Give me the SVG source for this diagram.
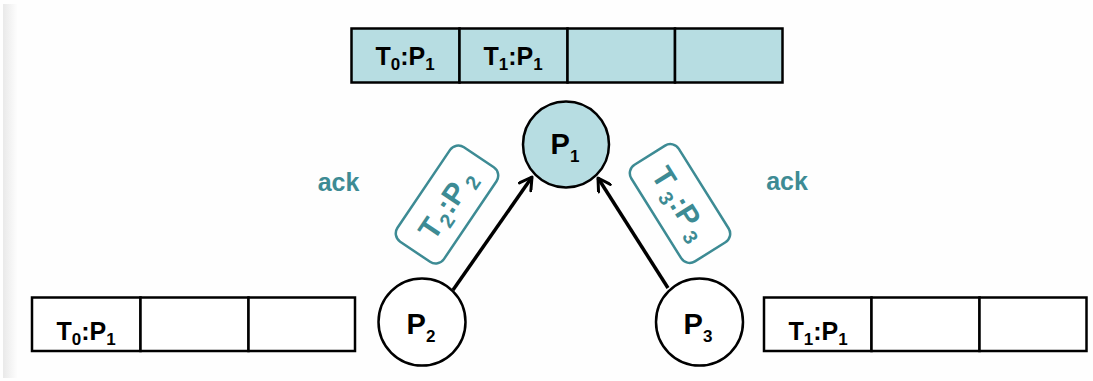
<svg xmlns="http://www.w3.org/2000/svg" width="1093" height="381" viewBox="0 0 1093 381">
<defs>
<linearGradient id="edge" x1="0" y1="0" x2="1" y2="0">
<stop offset="0" stop-color="#e9e9e9"/>
<stop offset="1" stop-color="#fdfdfd"/>
</linearGradient>
<marker id="arr" viewBox="0 0 16 16" refX="14" refY="8" markerWidth="16" markerHeight="16" markerUnits="userSpaceOnUse" orient="auto">
<path d="M2,1 L14,8 L2,15" fill="none" stroke="#000" stroke-width="3" stroke-linecap="round" stroke-linejoin="round"/>
</marker>
</defs>
<style>
.cell{fill:#fff;stroke:#000;stroke-width:2.5}
.cellb{fill:#b7dde2;stroke:#000;stroke-width:2.5}
.node{stroke:#000;stroke-width:2.5}
.t{font-family:"Liberation Sans",Arial,sans-serif;font-weight:bold;fill:#000;text-anchor:middle}
.c{font-size:25px}
.n{font-size:29px}
.s{font-size:17px}
.rs{font-size:20px}
.teal{fill:#3d8b94}
.tag{fill:#fff;stroke:#3d8b94;stroke-width:2.5}
.conn{stroke:#000;stroke-width:3.5;fill:none}
</style>
<rect width="1093" height="381" fill="#fefefe"/>
<rect x="3" y="4" width="14" height="374" fill="url(#edge)"/>

<g id="top-queue">
<rect class="cellb" x="351.5" y="28.5" width="108" height="54"/>
<rect class="cellb" x="459.5" y="28.5" width="108" height="54"/>
<rect class="cellb" x="567.5" y="28.5" width="107.5" height="54"/>
<rect class="cellb" x="675" y="28.5" width="107.5" height="54"/>
<text class="t c" x="405" y="64.5">T<tspan class="s" dy="5">0</tspan><tspan dy="-5">:P</tspan><tspan class="s" dy="5">1</tspan></text>
<text class="t c" x="513" y="64.5">T<tspan class="s" dy="5">1</tspan><tspan dy="-5">:P</tspan><tspan class="s" dy="5">1</tspan></text>
</g>

<g id="left-queue">
<rect class="cell" x="32" y="297.5" width="108.5" height="53.5"/>
<rect class="cell" x="140.5" y="297.5" width="108" height="53.5"/>
<rect class="cell" x="248.5" y="297.5" width="106.5" height="53.5"/>
<text class="t c" x="86" y="340">T<tspan class="s" dy="5">0</tspan><tspan dy="-5">:P</tspan><tspan class="s" dy="5">1</tspan></text>
</g>

<g id="right-queue">
<rect class="cell" x="764" y="297.5" width="107.5" height="53.5"/>
<rect class="cell" x="871.5" y="297.5" width="108" height="53.5"/>
<rect class="cell" x="979.5" y="297.5" width="107" height="53.5"/>
<text class="t c" x="818" y="340">T<tspan class="s" dy="5">1</tspan><tspan dy="-5">:P</tspan><tspan class="s" dy="5">1</tspan></text>
</g>

<g id="connectors">
<line class="conn" x1="453" y1="290" x2="532" y2="177" marker-end="url(#arr)"/>
<line class="conn" x1="668" y1="288" x2="598" y2="178" marker-end="url(#arr)"/>
</g>

<g id="P1">
<circle class="node" cx="566" cy="144.5" r="43" fill="#b7dde2"/>
<text class="t n" x="565" y="153.5">P<tspan class="s" dy="8">1</tspan></text>
</g>

<g id="P2">
<circle class="node" cx="422" cy="322" r="43.5" fill="#fff"/>
<text class="t n" x="421" y="333.5">P<tspan class="s" dy="8">2</tspan></text>
</g>

<g id="P3">
<circle class="node" cx="699.5" cy="322" r="43.5" fill="#fff"/>
<text class="t n" x="698" y="333.5">P<tspan class="s" dy="8">3</tspan></text>
</g>

<g id="msg-T2P2" transform="translate(447,204.5) rotate(-56)">
<rect class="tag" x="-57" y="-28" width="114" height="56" rx="10"/>
<text class="t teal" x="0" y="10" style="font-size:30px">T<tspan class="rs" dx="1" dy="6">2</tspan><tspan dx="1" dy="-6">:P</tspan><tspan class="rs" dx="4" dy="6">2</tspan></text>
</g>

<g id="msg-T3P3" transform="translate(680,203.5) rotate(58)">
<rect class="tag" x="-57" y="-28" width="114" height="56" rx="10"/>
<text class="t teal" x="0" y="10" style="font-size:30px">T<tspan class="rs" dx="4" dy="6">3</tspan><tspan dx="1" dy="-6">:P</tspan><tspan class="rs" dx="4" dy="6">3</tspan></text>
</g>

<g id="ack-left">
<text class="t teal" x="338.5" y="190.5" style="font-size:25px">ack</text>
</g>
<g id="ack-right">
<text class="t teal" x="787" y="189.5" style="font-size:25px">ack</text>
</g>
</svg>
